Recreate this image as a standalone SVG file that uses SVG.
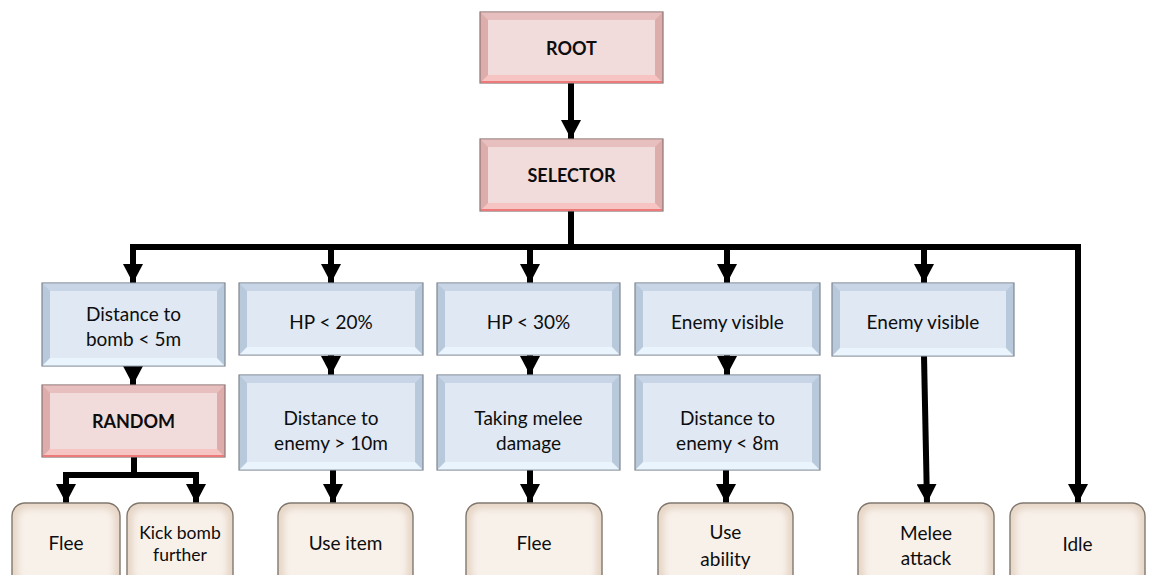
<svg xmlns="http://www.w3.org/2000/svg" width="1150" height="575" viewBox="0 0 1150 575">
  <style>
    .txt { font-family: Lato, "Open Sans", sans-serif; font-size: 19px; fill: #0d0d0d; text-anchor: middle; dominant-baseline: central; }
    .bold { font-weight: bold; font-size: 18px; }
    .small { font-size: 17.5px; }
    .frame { stroke: #7d8790; stroke-width: 1.2; }
    .b-side { fill: #b9c9dc; }
    .b-top { fill: #c8d5e6; }
    .b-bot { fill: #eaf4fc; }
    .b-mid { fill: #dfe8f3; }
    .p-side { fill: #ddadab; }
    .p-top { fill: #e7bfbe; }
    .p-bot { fill: #f6c4c3; }
    .p-mid { fill: #f2dcdb; }
    .p-frame { stroke: #8c7473; stroke-width: 1.2; }
    .leaf-out { fill: #e6d6c7; stroke: #7f756c; stroke-width: 1.4; }
    .leaf-in { fill: #f8f1ea; filter: url(#soft); }
    .wire { fill: none; stroke: #000; stroke-width: 6; }
  </style>
  <defs>
    <filter id="soft" x="-10%" y="-10%" width="120%" height="120%">
      <feGaussianBlur stdDeviation="3"/>
    </filter>
    <marker id="head" viewBox="0 0 19 20" refX="19" refY="10" markerWidth="19" markerHeight="20" markerUnits="userSpaceOnUse" orient="auto">
      <path d="M0 0 L19 10 L0 20 Z" fill="#000"/>
    </marker>
  </defs>

  <rect width="1150" height="575" fill="#fff"/>

  <!-- connectors -->
  <g id="connectors" class="wire">
    <path d="M571 83 V139" marker-end="url(#head)"/>
    <path d="M571 211 V247 H133 V283" marker-end="url(#head)"/>
    <path d="M571 247 H1078 V503" marker-end="url(#head)"/>
    <path d="M331 247 V283" marker-end="url(#head)"/>
    <path d="M530 247 V283" marker-end="url(#head)"/>
    <path d="M727 247 V283" marker-end="url(#head)"/>
    <path d="M924 247 V283" marker-end="url(#head)"/>
    <path d="M133 366 V385" marker-end="url(#head)"/>
    <path d="M331 355 V375" marker-end="url(#head)"/>
    <path d="M530 355 V375" marker-end="url(#head)"/>
    <path d="M727 355 V375" marker-end="url(#head)"/>
    <path d="M134 457 V475"/>
    <path d="M134 475 H66 V503" marker-end="url(#head)"/>
    <path d="M134 475 H196 V503" marker-end="url(#head)"/>
    <path d="M333 470 V503" marker-end="url(#head)"/>
    <path d="M530 470 V503" marker-end="url(#head)"/>
    <path d="M726 470 V503" marker-end="url(#head)"/>
    <path d="M924 356 L927 503" marker-end="url(#head)"/>
  </g>

  <!-- composite nodes -->
  <g id="root">
    <rect class="p-side p-frame" x="480" y="12" width="183" height="71"/>
    <polygon class="p-top" points="480.6,12.6 662.4,12.6 655,20 488,20"/>
    <polygon class="p-bot" points="480.6,82.4 662.4,82.4 655,75 488,75"/>
    <rect class="p-mid" x="488" y="20" width="167" height="55"/>
    <line x1="481" y1="82" x2="662" y2="82" stroke="#ec7a7a" stroke-width="2"/>
    <text class="txt bold" x="571.5" y="47.5">ROOT</text>
  </g>
  <g id="selector">
    <rect class="p-side p-frame" x="480" y="139" width="183" height="72"/>
    <polygon class="p-top" points="480.6,139.6 662.4,139.6 655,147 488,147"/>
    <polygon class="p-bot" points="480.6,210.4 662.4,210.4 655,203 488,203"/>
    <rect class="p-mid" x="488" y="147" width="167" height="56"/>
    <line x1="481" y1="210" x2="662" y2="210" stroke="#ec7a7a" stroke-width="2"/>
    <text class="txt bold" x="571.5" y="175">SELECTOR</text>
  </g>
  <g id="random">
    <rect class="p-side p-frame" x="42" y="385" width="183" height="72"/>
    <polygon class="p-top" points="42.6,385.6 224.4,385.6 217,393 50,393"/>
    <polygon class="p-bot" points="42.6,456.4 224.4,456.4 217,449 50,449"/>
    <rect class="p-mid" x="50" y="393" width="167" height="56"/>
    <line x1="43" y1="456" x2="224" y2="456" stroke="#ec7a7a" stroke-width="2"/>
    <text class="txt bold" x="133.5" y="421">RANDOM</text>
  </g>

  <!-- condition nodes -->
  <g id="cond-bomb">
    <rect class="b-side frame" x="42" y="283" width="183" height="83"/>
    <polygon class="b-top" points="42.6,283.6 224.4,283.6 217,291 50,291"/>
    <polygon class="b-bot" points="42.6,365.4 224.4,365.4 217,358 50,358"/>
    <rect class="b-mid" x="50" y="291" width="167" height="67"/>
    <text class="txt" x="133.5" y="313">Distance to</text>
    <text class="txt" x="133.5" y="338">bomb &lt; 5m</text>
  </g>
  <g id="cond-hp20">
    <rect class="b-side frame" x="239" y="283" width="184" height="72"/>
    <polygon class="b-top" points="239.6,283.6 422.4,283.6 415,291 247,291"/>
    <polygon class="b-bot" points="239.6,354.4 422.4,354.4 415,347 247,347"/>
    <rect class="b-mid" x="247" y="291" width="168" height="56"/>
    <text class="txt" x="331" y="321">HP &lt; 20%</text>
  </g>
  <g id="cond-far">
    <rect class="b-side frame" x="239" y="375" width="184" height="95"/>
    <polygon class="b-top" points="239.6,375.6 422.4,375.6 415,383 247,383"/>
    <polygon class="b-bot" points="239.6,469.4 422.4,469.4 415,462 247,462"/>
    <rect class="b-mid" x="247" y="383" width="168" height="79"/>
    <text class="txt" x="331" y="417">Distance to</text>
    <text class="txt" x="331" y="442">enemy &gt; 10m</text>
  </g>
  <g id="cond-hp30">
    <rect class="b-side frame" x="437" y="283" width="183" height="72"/>
    <polygon class="b-top" points="437.6,283.6 619.4,283.6 612,291 445,291"/>
    <polygon class="b-bot" points="437.6,354.4 619.4,354.4 612,347 445,347"/>
    <rect class="b-mid" x="445" y="291" width="167" height="56"/>
    <text class="txt" x="528.5" y="321">HP &lt; 30%</text>
  </g>
  <g id="cond-melee">
    <rect class="b-side frame" x="437" y="375" width="183" height="95"/>
    <polygon class="b-top" points="437.6,375.6 619.4,375.6 612,383 445,383"/>
    <polygon class="b-bot" points="437.6,469.4 619.4,469.4 612,462 445,462"/>
    <rect class="b-mid" x="445" y="383" width="167" height="79"/>
    <text class="txt" x="528.5" y="417">Taking melee</text>
    <text class="txt" x="528.5" y="442">damage</text>
  </g>
  <g id="cond-visible-a">
    <rect class="b-side frame" x="635" y="283" width="185" height="72"/>
    <polygon class="b-top" points="635.6,283.6 819.4,283.6 812,291 643,291"/>
    <polygon class="b-bot" points="635.6,354.4 819.4,354.4 812,347 643,347"/>
    <rect class="b-mid" x="643" y="291" width="169" height="56"/>
    <text class="txt" x="727.5" y="321">Enemy visible</text>
  </g>
  <g id="cond-near">
    <rect class="b-side frame" x="635" y="375" width="185" height="95"/>
    <polygon class="b-top" points="635.6,375.6 819.4,375.6 812,383 643,383"/>
    <polygon class="b-bot" points="635.6,469.4 819.4,469.4 812,462 643,462"/>
    <rect class="b-mid" x="643" y="383" width="169" height="79"/>
    <text class="txt" x="727.5" y="417">Distance to</text>
    <text class="txt" x="727.5" y="442">enemy &lt; 8m</text>
  </g>
  <g id="cond-visible-b">
    <rect class="b-side frame" x="832" y="283" width="182" height="73"/>
    <polygon class="b-top" points="832.6,283.6 1013.4,283.6 1006,291 840,291"/>
    <polygon class="b-bot" points="832.6,355.4 1013.4,355.4 1006,348 840,348"/>
    <rect class="b-mid" x="840" y="291" width="166" height="57"/>
    <text class="txt" x="923" y="321">Enemy visible</text>
  </g>

  <!-- action leaves -->
  <g id="leaf-flee-a">
    <rect class="leaf-out" x="12" y="503" width="108" height="85" rx="13"/>
    <rect class="leaf-in" x="18" y="509" width="96" height="73" rx="9"/>
    <text class="txt" x="66" y="542">Flee</text>
  </g>
  <g id="leaf-kick">
    <rect class="leaf-out" x="127" y="503" width="106" height="85" rx="13"/>
    <rect class="leaf-in" x="133" y="509" width="94" height="73" rx="9"/>
    <text class="txt small" x="180" y="532">Kick bomb</text>
    <text class="txt small" x="180" y="554">further</text>
  </g>
  <g id="leaf-item">
    <rect class="leaf-out" x="278" y="503" width="135" height="85" rx="13"/>
    <rect class="leaf-in" x="284" y="509" width="123" height="73" rx="9"/>
    <text class="txt" x="345.5" y="542">Use item</text>
  </g>
  <g id="leaf-flee-b">
    <rect class="leaf-out" x="466" y="503" width="136" height="85" rx="13"/>
    <rect class="leaf-in" x="472" y="509" width="124" height="73" rx="9"/>
    <text class="txt" x="534" y="542">Flee</text>
  </g>
  <g id="leaf-ability">
    <rect class="leaf-out" x="658" y="503" width="135" height="85" rx="13"/>
    <rect class="leaf-in" x="664" y="509" width="123" height="73" rx="9"/>
    <text class="txt" x="725.5" y="531">Use</text>
    <text class="txt" x="725.5" y="558">ability</text>
  </g>
  <g id="leaf-attack">
    <rect class="leaf-out" x="858" y="503" width="136" height="85" rx="13"/>
    <rect class="leaf-in" x="864" y="509" width="124" height="73" rx="9"/>
    <text class="txt" x="926" y="532">Melee</text>
    <text class="txt" x="926" y="557">attack</text>
  </g>
  <g id="leaf-idle">
    <rect class="leaf-out" x="1010" y="503" width="135" height="85" rx="13"/>
    <rect class="leaf-in" x="1016" y="509" width="123" height="73" rx="9"/>
    <text class="txt" x="1077.5" y="543">Idle</text>
  </g>
</svg>
